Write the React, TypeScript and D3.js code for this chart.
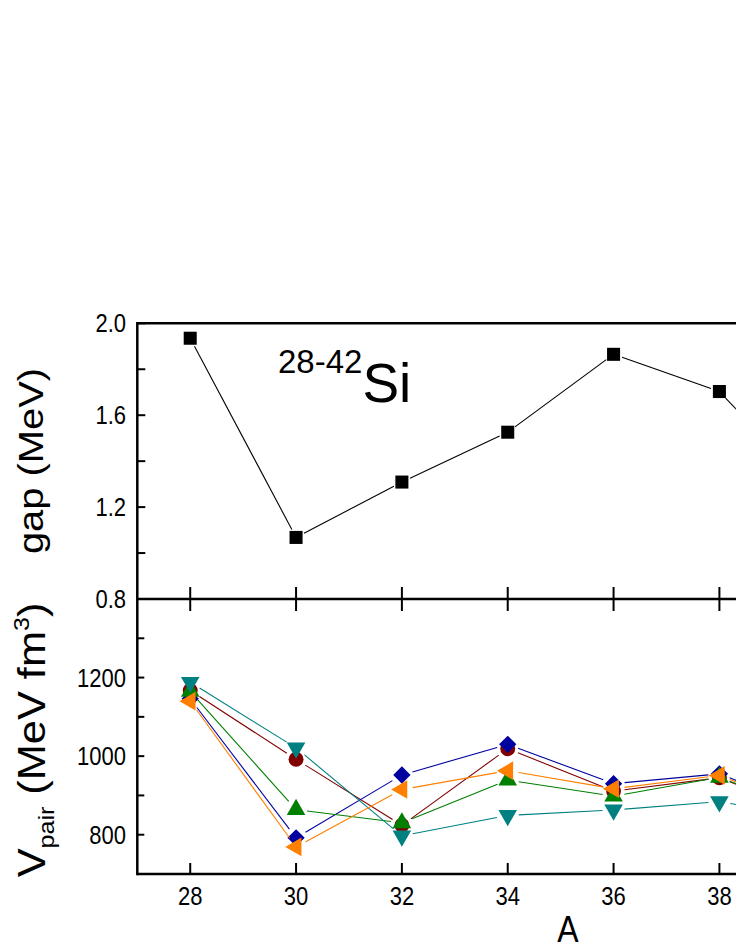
import React, { useEffect, useRef } from "react";
import * as d3 from "d3";

// mass numbers shown (the 42 point sits outside the visible crop)
const massNumbers = [28, 30, 32, 34, 36, 38, 40];
const gapValues = [1.935, 1.068, 1.309, 1.526, 1.865, 1.703, 1.22];

const vpairCircle = [1167, 992, 824, 1019, 911, 945, 840];
const vpairDiamond = [1146, 792, 952, 1030, 930, 955, 850];
const vpairUp = [1165, 864, 830, 939, 898, 946, 845];
const vpairDown = [1188, 1021, 797, 849, 863, 884, 838];
const vpairLeft = [1140, 769, 915, 963, 917, 951, 845];

const xTicks = [28, 30, 32, 34, 36, 38, 40, 42];
const gapTicks = [0.8, 1.0, 1.2, 1.4, 1.6, 1.8, 2.0];
const gapLabels = [0.8, 1.2, 1.6, 2.0];
const vpairTicks = [700, 800, 900, 1000, 1100, 1200, 1300, 1400];
const vpairLabels = [800, 1000, 1200];

const FONT = "'Liberation Sans', Arial, Helvetica, sans-serif";
const SY = 1.14; // text in the figure is a bit stretched vertically

function App() {
  const ref = useRef(null);

  useEffect(() => {
    if (!ref.current) return;
    ref.current.innerHTML = "";

    const W = 736;
    const H = 952;
    const left = 137.3;
    const right = 984;
    const topY = 323.3;
    const midY = 599;
    const botY = 874;

    const svg = d3
      .select(ref.current)
      .append("svg")
      .attr("width", W)
      .attr("height", H)
      .style("display", "block")
      .style("background", "#fff");

    const x = d3.scaleLinear().domain([27, 43]).range([left, right]);
    const yGap = d3.scaleLinear().domain([0.8, 2.0]).range([midY, topY]);
    const yV = d3.scaleLinear().domain([700, 1400]).range([botY, midY]);

    const text = (px, py, str, size, anchor = "middle", rot = 0) =>
      svg
        .append("g")
        .attr("transform", `translate(${px},${py}) scale(1,${SY})${rot ? ` rotate(${rot})` : ""}`)
        .append("text")
        .attr("text-anchor", anchor)
        .style("font-family", FONT)
        .style("font-size", `${size}px`)
        .attr("fill", "#000")
        .text(str);

    // segments with a small gap around the symbols
    const drawSegments = (vals, y, color, gap) => {
      for (let i = 0; i < vals.length - 1; i++) {
        const x1 = x(massNumbers[i]);
        const y1 = y(vals[i]);
        const x2 = x(massNumbers[i + 1]);
        const y2 = y(vals[i + 1]);
        const len = Math.hypot(x2 - x1, y2 - y1);
        if (len < gap * 2) continue;
        const ux = (x2 - x1) / len;
        const uy = (y2 - y1) / len;
        svg
          .append("line")
          .attr("x1", x1 + ux * gap)
          .attr("y1", y1 + uy * gap)
          .attr("x2", x2 - ux * gap)
          .attr("y2", y2 - uy * gap)
          .attr("stroke", color)
          .attr("stroke-width", 1.1);
      }
    };

    const drawSymbols = (vals, y, color, type, size, rot = 0) => {
      svg
        .append("g")
        .selectAll("path")
        .data(vals)
        .join("path")
        .attr("d", d3.symbol().type(type).size(size)())
        .attr("transform", (d, i) => `translate(${x(massNumbers[i])},${y(d)}) rotate(${rot})`)
        .attr("fill", color);
    };

    // top panel: gap
    drawSegments(gapValues, yGap, "#000", 9);
    drawSymbols(gapValues, yGap, "#000", d3.symbolSquare, 170);

    // bottom panel: V_pair
    const series = [
      { vals: vpairCircle, color: "#800000", type: d3.symbolCircle, size: 175, rot: 0 },
      { vals: vpairDiamond, color: "#0000A0", type: d3.symbolSquare, size: 150, rot: 45 },
      { vals: vpairUp, color: "#008000", type: d3.symbolTriangle, size: 150, rot: 0 },
      { vals: vpairDown, color: "#008080", type: d3.symbolTriangle, size: 150, rot: 180 },
      { vals: vpairLeft, color: "#FF8000", type: d3.symbolTriangle, size: 150, rot: -90 },
    ];
    series.forEach((s) => {
      drawSegments(s.vals, yV, s.color, 11);
      drawSymbols(s.vals, yV, s.color, s.type, s.size, s.rot);
    });

    // frame
    const frame = svg.append("g").attr("stroke", "#000").attr("stroke-width", 2.5).attr("fill", "none");
    frame.append("line").attr("x1", left).attr("x2", left).attr("y1", topY - 1.2).attr("y2", botY + 1.2);
    [topY, midY, botY].forEach((yy) =>
      frame.append("line").attr("x1", left).attr("x2", right).attr("y1", yy).attr("y2", yy)
    );

    // ticks
    const ticks = svg.append("g").attr("stroke", "#000").attr("stroke-width", 2);
    xTicks.forEach((t) => {
      const xx = x(t);
      ticks.append("line").attr("x1", xx).attr("x2", xx).attr("y1", midY - 12).attr("y2", midY + 12);
      ticks.append("line").attr("x1", xx).attr("x2", xx).attr("y1", botY - 11).attr("y2", botY);
    });
    gapTicks.forEach((t) =>
      ticks.append("line").attr("x1", left).attr("x2", left + 8).attr("y1", yGap(t)).attr("y2", yGap(t))
    );
    vpairTicks.forEach((t) =>
      ticks.append("line").attr("x1", left).attr("x2", left + 7).attr("y1", yV(t)).attr("y2", yV(t))
    );

    // tick labels
    xTicks.forEach((t) => text(x(t), 905, String(t), 22));
    gapLabels.forEach((t) => text(126, yGap(t) + 9, t.toFixed(1), 22, "end"));
    vpairLabels.forEach((t) => text(126, yV(t) + 9, String(t), 22, "end"));

    // axis titles
    text(568, 942, "A", 32);
    text(43, 461, "gap (MeV)", 35, "middle", -90);

    const vg = svg
      .append("g")
      .attr("transform", `translate(45,740) scale(1,${SY}) rotate(-90)`)
      .append("text")
      .attr("text-anchor", "middle")
      .style("font-family", FONT)
      .style("font-size", "38px");
    vg.append("tspan").text("V");
    vg.append("tspan").attr("dy", 9).style("font-size", "22px").text("pair");
    vg.append("tspan").attr("dy", -9).text(" (MeV fm");
    vg.append("tspan").attr("dy", -16).style("font-size", "22px").text("3");
    vg.append("tspan").attr("dy", 16).text(")");

    // nucleus annotation
    const ann = svg.append("text").attr("x", 278).attr("y", 402).style("font-family", FONT);
    ann.append("tspan").attr("dy", -29).style("font-size", "33px").text("28-42");
    ann.append("tspan").attr("dy", 29).style("font-size", "55px").text("Si");
  }, []);

  return (
    <div style={{ position: "absolute", left: 0, top: 0, width: 736, height: 952, overflow: "hidden" }}>
      <div ref={ref} />
    </div>
  );
}

export default App;
